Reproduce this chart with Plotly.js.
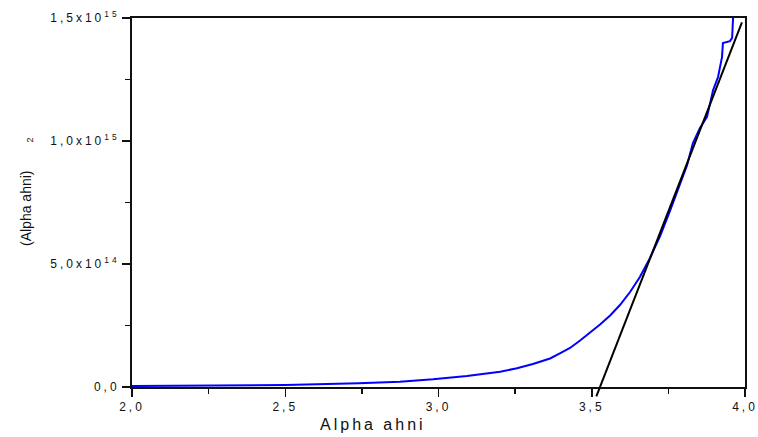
<!DOCTYPE html>
<html>
<head>
<meta charset="utf-8">
<script src="https://cdn.plot.ly/plotly-3.0.1.min.js"></script>
<style>
  html, body { margin: 0; padding: 0; background: #ffffff; }
  #chart { width: 758px; height: 437px; }
  .xtick text, .ytick text { letter-spacing: 3px; }
</style>
</head>
<body>
<div id="chart"></div>
<script>
// Photon energy (x) and squared absorption (y) of the measured curve
const photonEnergy = [
  2.00, 2.18, 2.50, 2.74, 2.874, 2.982, 3.093, 3.201, 3.256, 3.308,
  3.364, 3.396, 3.429, 3.462, 3.494, 3.527, 3.560, 3.592, 3.625, 3.657,
  3.690, 3.723, 3.755, 3.788, 3.811, 3.830, 3.853, 3.876, 3.886, 3.896,
  3.912, 3.925, 3.928, 3.951, 3.958, 3.961, 3.964
];
const absorptionSq = [
  4e12, 5e12, 8e12, 1.5e13, 2.15e13, 3.13e13, 4.47e13, 6.22e13, 7.6e13, 9.35e13,
  1.16e14, 1.37e14, 1.585e14, 1.89e14, 2.195e14, 2.541e14, 2.906e14, 3.333e14, 3.862e14, 4.472e14,
  5.244e14, 6.138e14, 7.154e14, 8.293e14, 9.02e14, 9.92e14, 1.053e15, 1.098e15, 1.154e15, 1.207e15,
  1.26e15, 1.341e15, 1.398e15, 1.406e15, 1.419e15, 1.5e15, 1.58e15
];

// Linear extrapolation of the steep part down to the energy axis
const fitEnergy = [3.515, 3.99];
const fitValues = [-3.8e13, 1.482e15];

// Axis ticks
const xTickVals = [2.0, 2.5, 3.0, 3.5, 4.0];
const xTickText = ['2,0', '2,5', '3,0', '3,5', '4,0'];
const yTickVals = [0, 5e14, 1e15, 1.5e15];
const yTickText = ['0,0', '5,0x10<sup>14</sup>', '1,0x10<sup>15</sup>', '1,5x10<sup>15</sup>'];

const xRange = [2.0, 4.0];
const yRange = [0, 1.5e15];

// Plot frame geometry: the fit line is allowed to run a little below the energy axis
const W = 758, H = 437;
const margin = { l: 132, r: 13, t: 18, b: 30 };
const plotH = H - margin.t - margin.b;
const belowAxisPx = 20;
const mainBottom = belowAxisPx / plotH;
const extLow = yRange[0] - (yRange[1] - yRange[0]) * mainBottom / (1 - mainBottom);

const ink = '#111111';
const fontFamily = 'Liberation Sans, Arial, sans-serif';
const tickFont = { family: fontFamily, size: 12, color: ink };

const traces = [
  {
    x: photonEnergy, y: absorptionSq,
    type: 'scatter', mode: 'lines',
    line: { color: '#0000ff', width: 2 },
    xaxis: 'x', yaxis: 'y',
    hoverinfo: 'skip'
  },
  {
    x: fitEnergy, y: fitValues,
    type: 'scatter', mode: 'lines',
    line: { color: '#000000', width: 2 },
    xaxis: 'x2', yaxis: 'y2',
    hoverinfo: 'skip'
  }
];

const layout = {
  width: W, height: H,
  margin: margin,
  paper_bgcolor: '#ffffff',
  plot_bgcolor: 'rgba(0,0,0,0)',
  showlegend: false,
  separators: ',.',
  xaxis: {
    range: xRange, domain: [0, 1], anchor: 'y',
    tickmode: 'array', tickvals: xTickVals, ticktext: xTickText,
    ticks: 'outside', ticklen: 8, tickwidth: 1.5, tickcolor: ink,
    minor: { tickmode: 'linear', tick0: 2, dtick: 0.25, ticks: 'outside', ticklen: 5, tickwidth: 1.5, tickcolor: ink },
    showline: true, linecolor: ink, linewidth: 2, mirror: true,
    showgrid: false, zeroline: false,
    tickfont: tickFont
  },
  yaxis: {
    range: yRange, domain: [mainBottom, 1], anchor: 'x',
    tickmode: 'array', tickvals: yTickVals, ticktext: yTickText,
    ticks: 'outside', ticklen: 8, tickwidth: 1.5, tickcolor: ink,
    minor: { tickmode: 'linear', tick0: 0, dtick: 2.5e14, ticks: 'outside', ticklen: 5, tickwidth: 1.5, tickcolor: ink },
    showline: true, linecolor: ink, linewidth: 2, mirror: true,
    showgrid: false, zeroline: false,
    tickfont: tickFont
  },
  // inward ticks on the top and right edges of the frame
  xaxis3: {
    range: xRange, overlaying: 'x', side: 'top', anchor: 'y',
    tickmode: 'array', tickvals: xTickVals, showticklabels: false,
    ticks: 'inside', ticklen: 3, tickwidth: 1.5, tickcolor: ink,
    minor: { tickmode: 'linear', tick0: 2, dtick: 0.25, ticks: 'inside', ticklen: 3, tickwidth: 1.5, tickcolor: ink },
    showline: false, showgrid: false, zeroline: false
  },
  yaxis3: {
    range: yRange, overlaying: 'y', side: 'right', anchor: 'x',
    tickmode: 'array', tickvals: yTickVals, showticklabels: false,
    ticks: 'inside', ticklen: 3, tickwidth: 1.5, tickcolor: ink,
    minor: { tickmode: 'linear', tick0: 0, dtick: 2.5e14, ticks: 'inside', ticklen: 3, tickwidth: 1.5, tickcolor: ink },
    showline: false, showgrid: false, zeroline: false
  },
  // same scales, extended downward, for the extrapolated line
  xaxis2: {
    range: xRange, domain: [0, 1], anchor: 'y2', visible: false
  },
  yaxis2: {
    range: [extLow, yRange[1]], domain: [0, 1], anchor: 'x2', visible: false
  },
  annotations: [
    {
      text: 'Alpha ahni',
      xref: 'paper', yref: 'paper', x: 0.393, y: 0,
      xanchor: 'center', yanchor: 'middle', yshift: -17,
      showarrow: false,
      font: { family: fontFamily, size: 16, color: ink }
    },
    {
      text: '(Alpha ahni)',
      xref: 'paper', yref: 'paper', x: 0, y: 0.5,
      xanchor: 'center', yanchor: 'middle', xshift: -106.5, yshift: 4,
      textangle: -90,
      showarrow: false,
      font: { family: fontFamily, size: 14, color: ink }
    },
    {
      // exponent of the vertical title
      text: '2',
      xref: 'paper', yref: 'paper', x: 0, y: 0.5,
      xanchor: 'center', yanchor: 'middle', xshift: -103, yshift: 72,
      textangle: -90,
      showarrow: false,
      font: { family: fontFamily, size: 9, color: ink }
    }
  ]
};

Plotly.newPlot('chart', traces, layout, { displayModeBar: false, staticPlot: true }).then(function () {
  const t = document.querySelector('g.annotation[data-index="0"] text');
  if (t) t.style.letterSpacing = '3px';
});
</script>
</body>
</html>
